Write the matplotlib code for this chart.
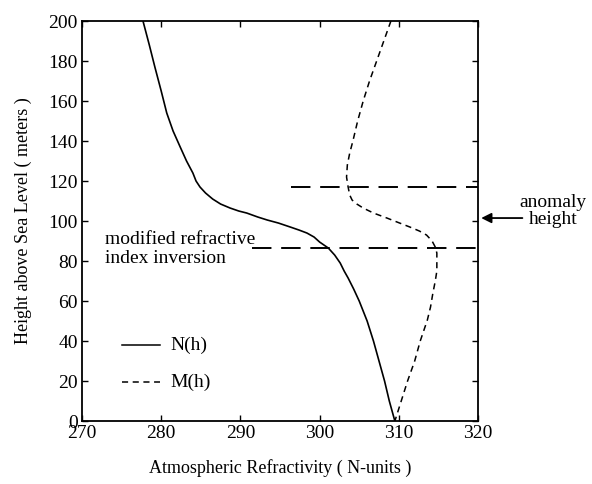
import matplotlib.pyplot as plt
import numpy as np

plt.rcParams['font.family'] = ['Liberation Serif', 'DejaVu Serif']

# N(h) profile: height (m) -> refractivity (N-units)
n_height = [200, 188, 177, 165, 154, 145, 137, 130, 124, 120, 117, 114, 111, 108.5, 106.5, 105, 104, 102, 100.5,
            99, 97, 95.5, 94, 92, 89.5, 86.5, 83, 79, 75, 71.5, 66, 60, 55, 50, 45, 40, 30, 20, 10, 0]
n_value = [277.7, 278.5, 279.2, 280.0, 280.7, 281.5, 282.4, 283.2, 284.0, 284.4, 284.9, 285.6, 286.5, 287.5,
           288.7, 289.8, 290.8, 292.2, 293.4, 294.8, 296.3, 297.4, 298.4, 299.3, 300.0, 301.1, 301.9, 302.6,
           303.1, 303.6, 304.3, 305.0, 305.5, 306.0, 306.4, 306.8, 307.5, 308.2, 308.8, 309.5]

# M(h) profile
m_height = [200, 190, 180, 170, 160, 150, 140, 134, 128, 122, 117, 113, 110.5, 108.5, 106.5, 104, 101.5, 99,
            97, 95, 93, 90, 87, 84, 80.5, 75, 70, 64, 57, 50.5, 40, 30, 20, 10, 0]
m_value = [309.0, 308.1, 307.2, 306.3, 305.5, 304.8, 304.2, 303.8, 303.5, 303.4, 303.6, 303.8, 304.1, 304.7,
           305.5, 306.8, 308.5, 310.1, 311.4, 312.6, 313.5, 314.2, 314.6, 314.8, 314.8, 314.8, 314.6, 314.3,
           314.0, 313.6, 312.7, 312.0, 311.1, 310.3, 309.5]

# inversion layer bounds (m) and where their marker lines start
layer_top = 117
layer_bottom = 86.5
top_line_start = 296.4
bottom_line_start = 291.5
anomaly_height = 101.5

fig = plt.figure(figsize=(5.92, 4.84), dpi=100)
ax = fig.add_axes([0.1385, 0.130, 0.669, 0.8266])

ax.plot(n_value, n_height, color='black', lw=1.2)
ax.plot(m_value, m_height, color='black', lw=1.1, dashes=(4, 3))

ax.plot([top_line_start, 320], [layer_top, layer_top], color='black', lw=1.4, dashes=(10, 5), clip_on=False)
ax.plot([bottom_line_start, 320], [layer_bottom, layer_bottom], color='black', lw=1.4, dashes=(10, 5), clip_on=False)

ax.set_xlim(270, 320)
ax.set_ylim(0, 200)
ax.set_xticks(np.arange(270, 321, 10))
ax.set_yticks(np.arange(0, 201, 20))
ax.tick_params(direction='in', top=True, right=True, length=4, width=1, labelsize=14, pad=3)
for sp in ax.spines.values():
    sp.set_linewidth(1.3)

ax.set_xlabel('Atmospheric Refractivity ( N-units )', fontsize=13, labelpad=12)
ax.set_ylabel('Height above Sea Level ( meters )', fontsize=13, labelpad=12)

ax.text(272.9, 86, 'modified refractive\nindex inversion', fontsize=14, va='center', ha='left', linespacing=1.1)

# legend drawn by hand
ax.plot([275, 279.8], [38, 38], color='black', lw=1.1)
ax.text(281.1, 38, 'N(h)', fontsize=14, va='center')
ax.plot([275, 279.8], [19.5, 19.5], color='black', lw=1.1, dashes=(4, 3))
ax.text(281.1, 19.5, 'M(h)', fontsize=14, va='center')

# anomaly marker outside the right axis
ax.annotate('', xy=(320.4, anomaly_height), xytext=(325.6, anomaly_height), annotation_clip=False,
            arrowprops=dict(arrowstyle='-|>', color='black', lw=1.3, mutation_scale=15, shrinkA=0, shrinkB=0))
ax.text(329.5, 105, 'anomaly\nheight', fontsize=14, va='center', ha='center', multialignment='center',
        linespacing=1.05, clip_on=False)

fig.savefig('out.png', dpi=100)
